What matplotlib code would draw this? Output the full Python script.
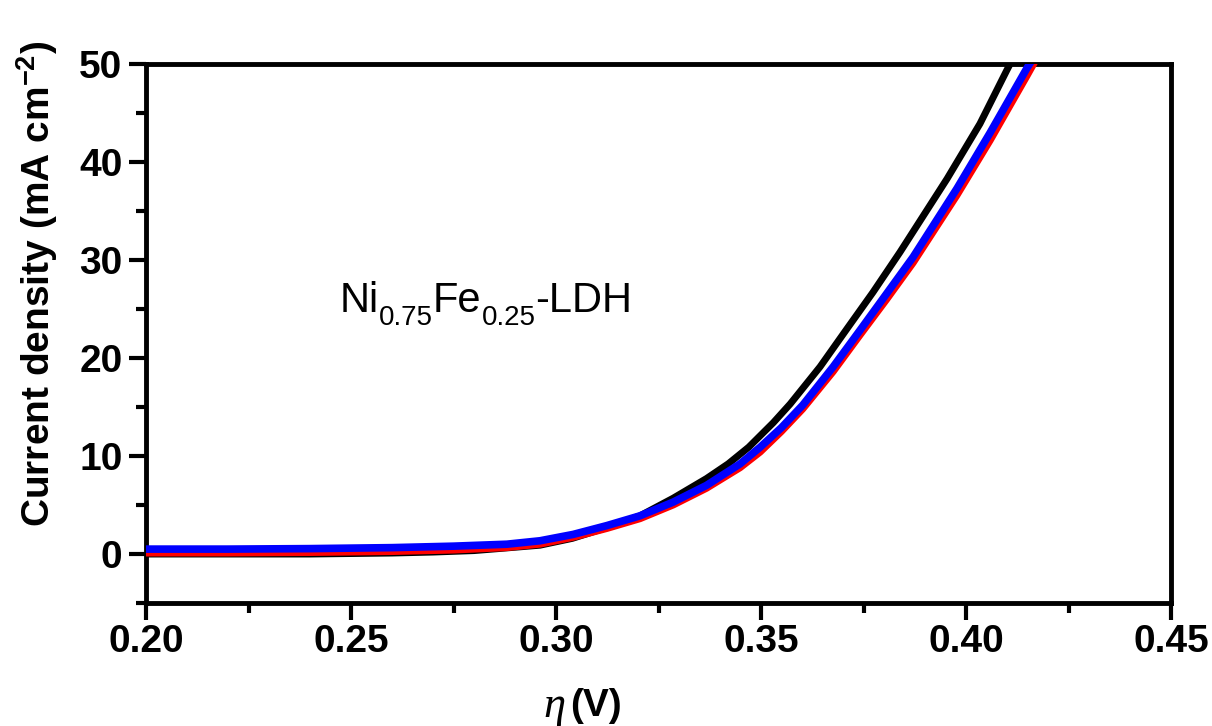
import matplotlib
matplotlib.use("Agg")
import matplotlib.pyplot as plt
from matplotlib.ticker import MultipleLocator, FormatStrFormatter

plt.rcParams['font.family'] = ['Liberation Sans', 'DejaVu Sans']
plt.rcParams['mathtext.default'] = 'regular'

# Data (overpotential in V, current density in mA cm^-2)
black_x = [0.200, 0.220, 0.240, 0.260, 0.270, 0.280, 0.2961, 0.3040, 0.3124, 0.3205,
           0.3286, 0.3367, 0.3420, 0.3470, 0.3530, 0.3571, 0.3644, 0.3710, 0.3773,
           0.3839, 0.3954, 0.4034, 0.4100, 0.4120]
black_y = [0.0, 0.0, 0.0, 0.1, 0.2, 0.35, 0.9, 1.6, 2.7, 3.9,
           5.7, 7.7, 9.2, 10.9, 13.4, 15.3, 19.1, 23.0, 26.7,
           30.8, 38.3, 43.9, 49.4, 51.0]

red_x = [0.200, 0.220, 0.240, 0.260, 0.275, 0.288, 0.2961, 0.3042, 0.3124, 0.3205,
         0.3286, 0.3367, 0.3449, 0.3498, 0.3550, 0.3602, 0.3676, 0.3741, 0.3807,
         0.3871, 0.3978, 0.4059, 0.4149, 0.4185]
red_y = [0.1, 0.1, 0.15, 0.25, 0.4, 0.65, 1.0, 1.7, 2.6, 3.6,
         5.0, 6.7, 8.8, 10.4, 12.5, 14.8, 18.6, 22.3, 26.0,
         29.7, 36.6, 42.2, 48.8, 51.5]

blue_x = [0.200, 0.220, 0.240, 0.260, 0.275, 0.288, 0.2961, 0.3042, 0.3124, 0.3205,
          0.3286, 0.3367, 0.3449, 0.3498, 0.3550, 0.3602, 0.3676, 0.3741, 0.3807,
          0.3871, 0.3978, 0.4059, 0.4149, 0.4170]
blue_y = [0.5, 0.5, 0.55, 0.65, 0.8, 1.0, 1.35, 2.0, 2.9, 3.9,
          5.3, 7.0, 9.2, 10.9, 12.9, 15.2, 19.1, 22.8, 26.6,
          30.3, 37.3, 43.0, 49.6, 51.0]

x_ticks = [0.20, 0.25, 0.30, 0.35, 0.40, 0.45]
y_ticks = [0, 10, 20, 30, 40, 50]

fig = plt.figure(figsize=(12.12, 7.26), dpi=100)
ax = fig.add_axes([146/1212, 1-603/726, (1171-146)/1212, (603-64)/726])

ax.plot(black_x, black_y, color='black', lw=5.0, zorder=2, solid_joinstyle='round')
ax.plot(red_x, red_y, color='red', lw=5.0, zorder=3, solid_joinstyle='round')
ax.plot(blue_x, blue_y, color='blue', lw=5.5, zorder=4, solid_joinstyle='round')

ax.set_xlim(0.20, 0.45)
ax.set_ylim(-5, 50)
ax.set_xticks(x_ticks)
ax.set_yticks(y_ticks)
ax.xaxis.set_minor_locator(MultipleLocator(0.025))
ax.yaxis.set_minor_locator(MultipleLocator(5))
ax.xaxis.set_major_formatter(FormatStrFormatter('%.2f'))

for s in ax.spines.values():
    s.set_linewidth(3.5)

ax.tick_params(which='both', direction='out', top=False, right=False, width=3)
ax.tick_params(which='major', length=12, labelsize=28)
ax.tick_params(which='minor', length=7)
ax.tick_params(axis='x', which='major', pad=3)
ax.tick_params(axis='y', which='major', pad=5)
for lab in ax.get_xticklabels() + ax.get_yticklabels():
    lab.set_fontweight('bold')

# Composite annotation with manual subscripts
fig.canvas.draw()
renderer = fig.canvas.get_renderer()
pieces = [('Ni', 30, 0), ('0.75', 20, -13), ('Fe', 30, 0), ('0.25', 20, -13), ('-LDH', 30, 0)]
offset = 0.0
for txt, size, dy in pieces:
    t = ax.annotate(txt, xy=(0.2473, 24.7), xycoords='data',
                    xytext=(offset, dy), textcoords='offset pixels',
                    fontsize=size, ha='left', va='baseline')
    bb = t.get_window_extent(renderer)
    offset += bb.width

fig.text(37/1212, 1-284/726, 'Current density (mA cm$^{-2}$)', rotation=90,
         ha='center', va='center', fontsize=28, fontweight='bold')

fig.text(566/1212, 1-706/726, 'η', family=['Liberation Serif'], style='italic',
         fontsize=32, ha='right', va='center')
fig.text(570/1212, 1-706/726, '(V)', fontsize=28, fontweight='bold',
         ha='left', va='center')

fig.savefig('out.png', dpi=100)
